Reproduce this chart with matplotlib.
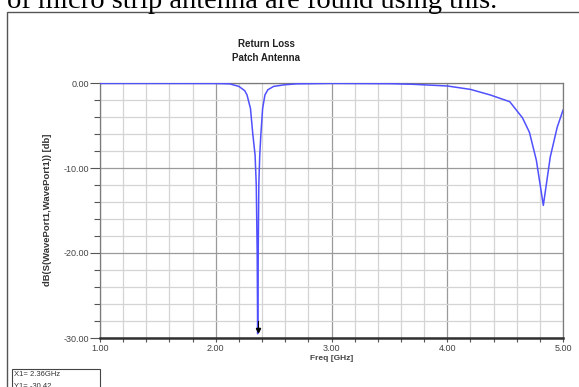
import matplotlib.pyplot as plt
from matplotlib.ticker import MultipleLocator, FormatStrFormatter
from matplotlib.patches import Rectangle

# S11 (GHz, dB)
freq = [1.00, 1.50, 2.00, 2.12, 2.20, 2.25, 2.27, 2.30, 2.32, 2.34, 2.35, 2.358,
        2.362, 2.367, 2.372, 2.38, 2.39, 2.405, 2.425, 2.45, 2.50, 2.60, 2.70,
        3.00, 3.50, 3.70, 3.85, 4.00, 4.20, 4.37, 4.54, 4.65, 4.71, 4.77, 4.83,
        4.89, 4.95, 5.00]
s11 = [-0.05, -0.05, -0.06, -0.10, -0.40, -0.90, -1.40, -3.00, -6.00, -8.50,
       -12.0, -20.0, -29.5, -20.0, -12.0, -8.50, -6.00, -3.00, -1.40, -0.80,
       -0.40, -0.20, -0.10, -0.05, -0.08, -0.15, -0.25, -0.35, -0.75, -1.40,
       -2.20, -4.10, -5.80, -9.10, -14.4, -8.70, -5.20, -3.20]

title = "Return Loss\nPatch Antenna"
ylabel = "dB(S(WavePort1,WavePort1)) [db]"
xlabel = "Freq [GHz]"
marker_x = "X1= 2.36GHz"
marker_y = "Y1= -30.42"
page_txt = "of micro strip antenna are found using this."

W, H = 579, 387
fig = plt.figure(figsize=(W / 100, H / 100), dpi=100)
fig.patch.set_facecolor("white")

def px(x, y):
    return x / W, 1 - y / H

# surrounding page text and frame (the screenshot cuts the line at the top)
fig.text(*px(7, 8), page_txt, family="Liberation Serif", fontsize=20.5,
         ha="left", va="baseline", color="black")
fig.add_artist(Rectangle(px(7, 400), (W + 10) / W, 388 / H, transform=fig.transFigure,
                         fill=False, edgecolor="#555555", linewidth=1.0))

ax = fig.add_axes([100 / W, (H - 338) / H, 463 / W, 255 / H])
ax.plot(freq, s11, color="#5050ff", linewidth=1.1, zorder=3)
ax.plot([2.362], [-29.0], marker="v", color="black", markersize=3, zorder=4)
ax.plot([2.362, 2.362], [-29.0, -28.0], color="black", linewidth=0.8, zorder=4)
ax.axhline(0, color="#202080", linewidth=1.2, zorder=2)

ax.set_xlim(1, 5)
ax.set_ylim(-30, 0)
ax.xaxis.set_major_locator(MultipleLocator(1))
ax.xaxis.set_minor_locator(MultipleLocator(0.2))
ax.yaxis.set_major_locator(MultipleLocator(10))
ax.yaxis.set_minor_locator(MultipleLocator(2))
ax.xaxis.set_major_formatter(FormatStrFormatter("%.2f"))
ax.yaxis.set_major_formatter(FormatStrFormatter("%.2f"))
ax.grid(which="major", color="#9a9a9a", linewidth=0.9)
ax.grid(which="minor", color="#d4d4d4", linewidth=0.9)
ax.set_axisbelow(True)

for s in ["left", "right", "top"]:
    ax.spines[s].set_color("#7a7a7a")
    ax.spines[s].set_linewidth(0.9)
ax.spines["bottom"].set_color("#303030")
ax.spines["bottom"].set_linewidth(1.8)

ax.tick_params(which="both", colors="#555555", labelsize=6.5, labelcolor="#444444",
               width=0.8, direction="out")
ax.tick_params(axis="y", which="major", length=7, pad=1)
ax.tick_params(axis="y", which="minor", length=4)
ax.tick_params(axis="x", which="both", length=3, pad=1)
for t in ax.get_xticklabels() + ax.get_yticklabels():
    t.set_family("Liberation Sans")

fig.text(*px(266, 51), title, family="Liberation Sans", fontweight="bold",
         fontsize=7, ha="center", va="center", color="#222222", linespacing=1.5)
fig.text(*px(48, 210), ylabel, family="Liberation Sans", fontweight="bold",
         fontsize=6.8, rotation=90, ha="center", va="center", color="#333333")
fig.text(*px(332, 359), xlabel, family="Liberation Sans", fontweight="bold",
         fontsize=6, ha="center", va="center", color="#444444")

fig.add_artist(Rectangle(px(12, 400), 88 / W, 31 / H, transform=fig.transFigure,
                         fill=False, edgecolor="#444444", linewidth=0.8))
fig.text(*px(14, 376), marker_x, family="Liberation Sans", fontsize=5.5,
         ha="left", va="baseline", color="#333333")
fig.text(*px(14, 388), marker_y, family="Liberation Sans", fontsize=5.5,
         ha="left", va="baseline", color="#333333")

fig.savefig("out.png", dpi=100)
